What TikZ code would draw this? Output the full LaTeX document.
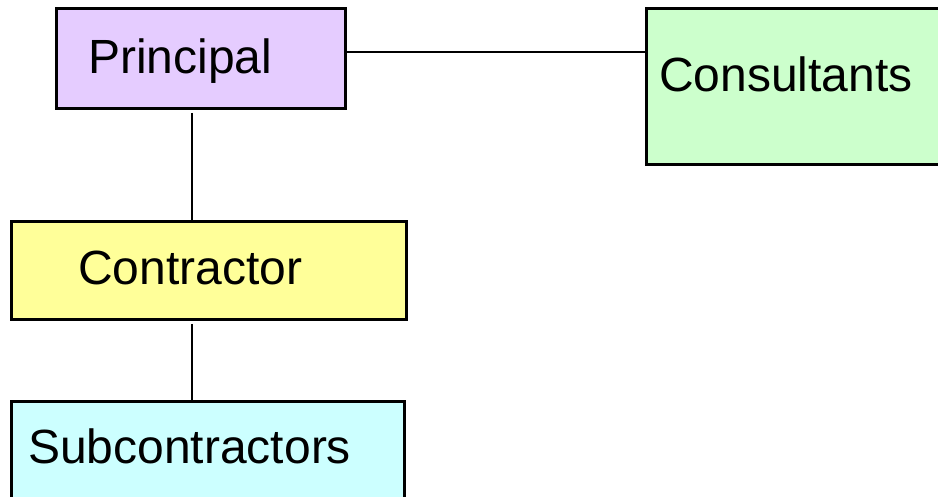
\documentclass[tikz,border=0pt]{standalone}
\usepackage{fontspec}
\setmainfont{Liberation Sans}
\definecolor{lav}{RGB}{229,204,255}
\definecolor{yel}{RGB}{255,255,153}
\definecolor{grn}{RGB}{204,255,204}
\definecolor{cyn}{RGB}{204,255,255}
\begin{document}
\begin{tikzpicture}[x=1pt,y=-1pt,
  box/.style={draw=black, line width=3pt, rectangle, inner sep=0pt, anchor=north west},
  txt/.style={anchor=base west, inner sep=0pt, font=\fontsize{48}{50}\selectfont},
  conn/.style={draw=black, line width=2pt}]
\useasboundingbox (0,0) rectangle (938,497);
\fill[white] (0,0) rectangle (938,497);
\node[box, fill=lav, minimum width=289pt, minimum height=100pt] (p) at (55,7) {};
\node[box, fill=grn, minimum width=320pt, minimum height=156pt] (c) at (645,7) {};
\node[box, fill=yel, minimum width=395pt, minimum height=98pt] (k) at (10,220) {};
\node[box, fill=cyn, minimum width=393pt, minimum height=120pt] (s) at (10,400) {};
\node[txt] (pt) at (88,74) {Principal};
\node[txt] (ct) at (659,92) {Consultants};
\node[txt] (kt) at (78,285) {Contractor};
\node[txt] (st) at (28,463) {Subcontractors};
\coordinate (pa) at (192,113);
\coordinate (ka) at (192,324);
\draw[conn] (p.east |- 0,52) -- (c.west |- 0,52);
\draw[conn] (pa) -- (pa |- k.north);
\draw[conn] (ka) -- (ka |- s.north);
\end{tikzpicture}
\end{document}
